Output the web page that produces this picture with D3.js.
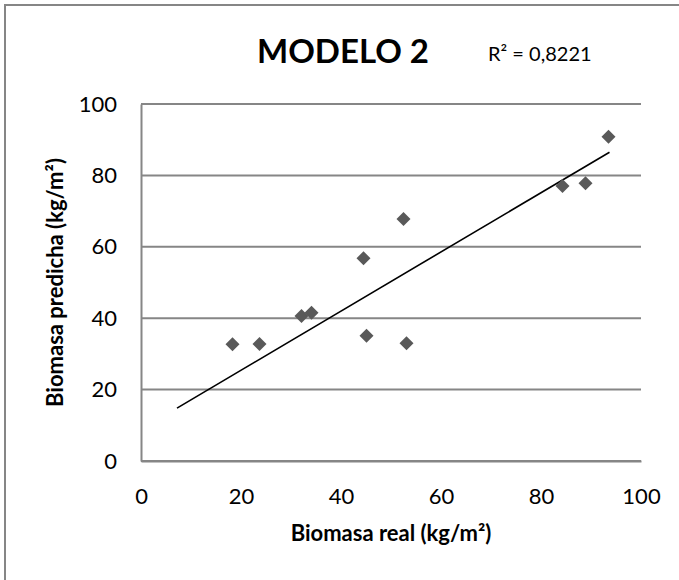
<!DOCTYPE html>
<html>
<head>
<meta charset="utf-8">
<script src="https://cdn.jsdelivr.net/npm/d3@7"></script>
<style>
  body { margin: 0; background: #fff; }
  text { font-family: Lato, "Open Sans", sans-serif; }
</style>
</head>
<body>
<div id="chart"></div>
<script>
// Modelo 2 - biomasa real vs predicha

const realX = [18.3, 23.7, 32.1, 34.1, 44.5, 45.1, 52.5, 53.1, 84.3, 88.9, 93.5]
const predY = [32.7, 32.8, 40.6, 41.5, 56.8, 35.1, 67.8, 33.0, 77.0, 77.8, 90.8]
const trendX = [7.2, 93.7]
const trendY = [14.8, 86.5]
const xTicks = [0, 20, 40, 60, 80, 100]
const yTicks = [0, 20, 40, 60, 80, 100]

const WD = 679, HT = 580
const margin = { left: 141, right: 38, top: 104, bottom: 119 }
const width = WD - margin.left - margin.right
const height = HT - margin.top - margin.bottom

var svg = d3.select("#chart").append("svg")
    .attr("width", WD)
    .attr("height", HT)

// outer frame
svg.append("rect")
    .attr("x", 5).attr("y", 5)
    .attr("width", WD + 20).attr("height", HT + 20)
    .attr("fill", "none")
    .attr("stroke", "#868686")
    .attr("stroke-width", 2)

var g = svg.append("g")
    .attr("transform", "translate(" + margin.left + "," + margin.top + ")")

const xs = d3.scaleLinear().domain([0, 100]).range([0, width])
const ys = d3.scaleLinear().domain([0, 100]).range([height, 0])

// gridlines
g.selectAll(".grid")
    .data(yTicks.slice(1))
    .enter().append("line")
    .attr("class", "grid")
    .attr("x1", 0).attr("x2", width)
    .attr("y1", d => ys(d)).attr("y2", d => ys(d))
    .attr("stroke", "#868686")
    .attr("stroke-width", 2)

// axes
var yAxis = g.append("g")
    .call(d3.axisLeft(ys).tickValues(yTicks).tickSize(0).tickPadding(24))
var xAxis = g.append("g")
    .attr("transform", "translate(0," + height + ")")
    .call(d3.axisBottom(xs).tickValues(xTicks).tickSize(0).tickPadding(27))

;[yAxis, xAxis].forEach(a => {
  a.select(".domain").attr("stroke", "#868686").attr("stroke-width", 2)
  a.selectAll("text")
    .attr("font-size", "22px")
    .attr("font-family", "Lato, 'Open Sans', sans-serif")
    .attr("fill", "#000")
})
// x baseline across the plot
g.append("line")
    .attr("x1", 0).attr("x2", width)
    .attr("y1", height).attr("y2", height)
    .attr("stroke", "#868686").attr("stroke-width", 2)

// trend line
g.append("line")
    .attr("x1", xs(trendX[0])).attr("y1", ys(trendY[0]))
    .attr("x2", xs(trendX[1])).attr("y2", ys(trendY[1]))
    .attr("stroke", "#000")
    .attr("stroke-width", 1.6)

// points
g.selectAll(".pt")
    .data(realX)
    .enter().append("path")
    .attr("class", "pt")
    .attr("d", "M0,-7L7,0L0,7L-7,0Z")
    .attr("transform", (d, i) => "translate(" + xs(d) + "," + ys(predY[i]) + ")")
    .attr("fill", "#595959")

// title
svg.append("text")
    .attr("x", 343)
    .attr("y", 63)
    .attr("text-anchor", "middle")
    .attr("font-size", "33px")
    .attr("font-weight", "bold")
    .text("MODELO 2")

svg.append("text")
    .attr("x", 488)
    .attr("y", 61)
    .attr("font-size", "20px")
    .text("R² = 0,8221")

// axis labels
svg.append("text")
    .attr("x", margin.left + width / 2)
    .attr("y", 541)
    .attr("text-anchor", "middle")
    .attr("font-size", "22px")
    .attr("font-weight", "bold")
    .text("Biomasa real (kg/m²)")

svg.append("text")
    .attr("transform", "translate(63," + (margin.top + height / 2) + ") rotate(-90)")
    .attr("text-anchor", "middle")
    .attr("font-size", "22px")
    .attr("font-weight", "bold")
    .text("Biomasa predicha (kg/m²)")
</script>
</body>
</html>
